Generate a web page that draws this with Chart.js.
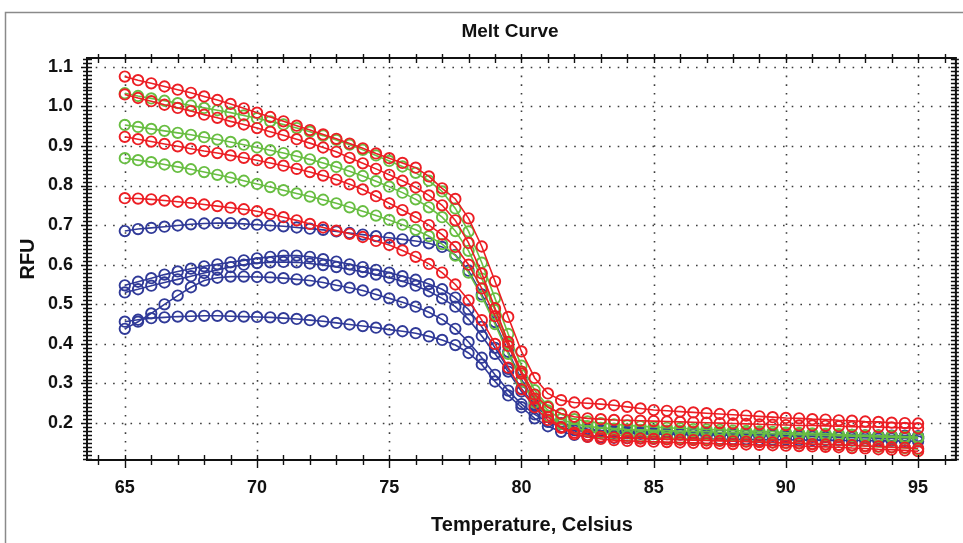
<!DOCTYPE html>
<html>
<head>
<meta charset="utf-8">
<title>Melt Curve</title>
<script src="https://cdn.jsdelivr.net/npm/chart.js@4.4.1/dist/chart.umd.min.js"></script>
<style>
  html, body { margin: 0; padding: 0; background: #fff; }
</style>
</head>
<body>
<canvas id="melt" width="963" height="543"></canvas>
<script>
// temperature steps (0.5 C)
const temps = [
  65, 65.5, 66, 66.5, 67, 67.5, 68, 68.5, 69, 69.5,
  70, 70.5, 71, 71.5, 72, 72.5, 73, 73.5, 74, 74.5,
  75, 75.5, 76, 76.5, 77, 77.5, 78, 78.5, 79, 79.5,
  80, 80.5, 81, 81.5, 82, 82.5, 83, 83.5, 84, 84.5,
  85, 85.5, 86, 86.5, 87, 87.5, 88, 88.5, 89, 89.5,
  90, 90.5, 91, 91.5, 92, 92.5, 93, 93.5, 94, 94.5,
  95
];

// red wells
const redA = [
  1.075, 1.066, 1.058, 1.050, 1.042, 1.034, 1.025, 1.016, 1.006, 0.995,
  0.984, 0.973, 0.962, 0.951, 0.940, 0.929, 0.918, 0.906, 0.894, 0.881,
  0.869, 0.857, 0.845, 0.823, 0.793, 0.766, 0.717, 0.646, 0.558, 0.468,
  0.381, 0.314, 0.275, 0.258, 0.252, 0.250, 0.248, 0.245, 0.241, 0.237,
  0.233, 0.231, 0.229, 0.227, 0.225, 0.223, 0.221, 0.219, 0.217, 0.215,
  0.213, 0.212, 0.210, 0.209, 0.207, 0.206, 0.204, 0.203, 0.201, 0.200,
  0.199
];
const redB = [
  1.030, 1.021, 1.013, 1.004, 0.996, 0.988, 0.979, 0.971, 0.962, 0.954,
  0.945, 0.936, 0.927, 0.917, 0.907, 0.896, 0.885, 0.870, 0.856, 0.842,
  0.827, 0.812, 0.795, 0.775, 0.750, 0.712, 0.655, 0.578, 0.490, 0.405,
  0.330, 0.272, 0.240, 0.224, 0.216, 0.212, 0.210, 0.208, 0.207, 0.206,
  0.205, 0.204, 0.203, 0.202, 0.201, 0.200, 0.199, 0.198, 0.197, 0.196,
  0.195, 0.194, 0.194, 0.193, 0.192, 0.191, 0.190, 0.190, 0.189, 0.188,
  0.187
];
const redC = [
  0.923, 0.917, 0.911, 0.905, 0.899, 0.893, 0.887, 0.882, 0.876, 0.870,
  0.864, 0.857, 0.850, 0.842, 0.834, 0.825, 0.815, 0.803, 0.790, 0.773,
  0.755, 0.738, 0.720, 0.700, 0.676, 0.645, 0.600, 0.540, 0.470, 0.395,
  0.325, 0.262, 0.215, 0.190, 0.176, 0.170, 0.166, 0.164, 0.162, 0.161,
  0.160, 0.159, 0.158, 0.157, 0.156, 0.155, 0.154, 0.153, 0.152, 0.151,
  0.150, 0.149, 0.147, 0.146, 0.145, 0.144, 0.142, 0.141, 0.139, 0.138,
  0.136
];
const redD = [
  0.768, 0.767, 0.765, 0.762, 0.759, 0.756, 0.752, 0.748, 0.744, 0.740,
  0.735, 0.728, 0.720, 0.712, 0.703, 0.694, 0.686, 0.678, 0.670, 0.660,
  0.650, 0.636, 0.620, 0.602, 0.580, 0.550, 0.510, 0.460, 0.400, 0.340,
  0.285, 0.240, 0.208, 0.188, 0.172, 0.165, 0.160, 0.157, 0.155, 0.154,
  0.153, 0.152, 0.151, 0.150, 0.149, 0.148, 0.147, 0.146, 0.145, 0.144,
  0.143, 0.142, 0.141, 0.140, 0.139, 0.137, 0.136, 0.134, 0.133, 0.131,
  0.129
];

// green wells
const greenA = [
  1.033, 1.026, 1.020, 1.014, 1.008, 1.002, 0.996, 0.990, 0.984, 0.977,
  0.970, 0.962, 0.954, 0.945, 0.936, 0.926, 0.915, 0.903, 0.890, 0.876,
  0.862, 0.848, 0.832, 0.812, 0.785, 0.742, 0.684, 0.605, 0.515, 0.425,
  0.345, 0.283, 0.243, 0.222, 0.210, 0.204, 0.200, 0.197, 0.194, 0.192,
  0.190, 0.188, 0.187, 0.185, 0.184, 0.183, 0.181, 0.180, 0.179, 0.178,
  0.176, 0.175, 0.174, 0.173, 0.172, 0.170, 0.169, 0.168, 0.167, 0.166,
  0.165
];
const greenB = [
  0.953, 0.948, 0.943, 0.938, 0.933, 0.928, 0.922, 0.916, 0.910, 0.903,
  0.896, 0.889, 0.882, 0.874, 0.866, 0.857, 0.847, 0.836, 0.824, 0.811,
  0.797, 0.782, 0.765, 0.745, 0.720, 0.685, 0.635, 0.565, 0.485, 0.402,
  0.330, 0.272, 0.232, 0.210, 0.198, 0.192, 0.188, 0.186, 0.184, 0.183,
  0.182, 0.181, 0.180, 0.179, 0.178, 0.177, 0.176, 0.175, 0.174, 0.173,
  0.172, 0.171, 0.170, 0.169, 0.168, 0.167, 0.166, 0.165, 0.164, 0.163,
  0.162
];
const greenC = [
  0.869, 0.864, 0.859, 0.853, 0.847, 0.841, 0.834, 0.827, 0.820, 0.812,
  0.804, 0.796, 0.788, 0.780, 0.772, 0.764, 0.755, 0.745, 0.735, 0.724,
  0.713, 0.701, 0.688, 0.672, 0.652, 0.623, 0.580, 0.520, 0.450, 0.375,
  0.305, 0.252, 0.218, 0.198, 0.187, 0.180, 0.175, 0.171, 0.168, 0.166,
  0.164, 0.162, 0.161, 0.159, 0.158, 0.157, 0.155, 0.154, 0.153, 0.151,
  0.150, 0.149, 0.147, 0.146, 0.145, 0.143, 0.142, 0.140, 0.139, 0.137,
  0.134
];

// blue wells
const blueA = [
  0.685, 0.690, 0.693, 0.696, 0.699, 0.702, 0.704, 0.705, 0.705, 0.703,
  0.701, 0.699, 0.697, 0.694, 0.691, 0.688, 0.684, 0.680, 0.676, 0.672,
  0.668, 0.664, 0.660, 0.654, 0.645, 0.625, 0.585, 0.525, 0.455, 0.380,
  0.310, 0.255, 0.218, 0.198, 0.188, 0.183, 0.180, 0.178, 0.177, 0.176,
  0.175, 0.175, 0.174, 0.174, 0.173, 0.173, 0.172, 0.172, 0.171, 0.171,
  0.170, 0.170, 0.169, 0.169, 0.168, 0.168, 0.167, 0.167, 0.166, 0.166,
  0.165
];
const blueB = [
  0.548, 0.557, 0.566, 0.575, 0.583, 0.590, 0.596, 0.601, 0.606, 0.611,
  0.616, 0.620, 0.623, 0.623, 0.620, 0.614, 0.608, 0.601, 0.594, 0.587,
  0.580, 0.571, 0.562, 0.551, 0.538, 0.517, 0.487, 0.443, 0.390, 0.337,
  0.287, 0.247, 0.217, 0.198, 0.188, 0.184, 0.181, 0.179, 0.178, 0.177,
  0.176, 0.175, 0.174, 0.173, 0.172, 0.171, 0.170, 0.170, 0.169, 0.168,
  0.167, 0.166, 0.166, 0.165, 0.164, 0.163, 0.163, 0.162, 0.161, 0.161,
  0.160
];
const blueC = [
  0.530, 0.538, 0.547, 0.555, 0.563, 0.571, 0.579, 0.587, 0.594, 0.600,
  0.604, 0.606, 0.607, 0.606, 0.603, 0.599, 0.594, 0.588, 0.582, 0.575,
  0.567, 0.558, 0.547, 0.533, 0.515, 0.494, 0.462, 0.420, 0.375, 0.330,
  0.280, 0.243, 0.218, 0.200, 0.190, 0.185, 0.182, 0.181, 0.180, 0.179,
  0.178, 0.178, 0.177, 0.176, 0.176, 0.175, 0.175, 0.174, 0.174, 0.173,
  0.172, 0.172, 0.171, 0.171, 0.170, 0.170, 0.169, 0.169, 0.168, 0.168,
  0.167
];
const blueD = [
  0.456, 0.461, 0.465, 0.467, 0.469, 0.470, 0.471, 0.471, 0.470, 0.469,
  0.468, 0.467, 0.465, 0.463, 0.460, 0.457, 0.453, 0.449, 0.445, 0.441,
  0.436, 0.432, 0.427, 0.419, 0.410, 0.397, 0.377, 0.348, 0.305, 0.270,
  0.240, 0.212, 0.192, 0.178, 0.170, 0.166, 0.164, 0.163, 0.162, 0.162,
  0.161, 0.161, 0.160, 0.160, 0.160, 0.159, 0.159, 0.159, 0.158, 0.158,
  0.158, 0.157, 0.157, 0.157, 0.156, 0.156, 0.156, 0.155, 0.155, 0.155,
  0.154
];
const blueE = [
  0.438, 0.456, 0.477, 0.500, 0.522, 0.543, 0.560, 0.567, 0.570, 0.570,
  0.569, 0.568, 0.566, 0.563, 0.560, 0.555, 0.548, 0.542, 0.535, 0.525,
  0.515, 0.505, 0.494, 0.480, 0.462, 0.438, 0.405, 0.365, 0.322, 0.282,
  0.248, 0.222, 0.203, 0.190, 0.182, 0.178, 0.176, 0.175, 0.174, 0.173,
  0.172, 0.172, 0.171, 0.171, 0.170, 0.170, 0.169, 0.169, 0.168, 0.168,
  0.167, 0.167, 0.166, 0.166, 0.165, 0.165, 0.164, 0.164, 0.163, 0.163,
  0.162
];

const xTicks = [65, 70, 75, 80, 85, 90, 95];
const yTicks = [0.2, 0.3, 0.4, 0.5, 0.6, 0.7, 0.8, 0.9, 1.0, 1.1];

const RED = 'rgb(236, 30, 36)';
const GREEN = 'rgb(104, 190, 66)';
const BLUE = 'rgb(48, 58, 152)';
const FONT = '"Liberation Sans", Arial, sans-serif';

// first dataset is painted last, so reds sit on top like the instrument plot
const wells = [
  [redA, RED], [redB, RED], [redC, RED], [redD, RED],
  [greenA, GREEN], [greenB, GREEN], [greenC, GREEN],
  [blueA, BLUE], [blueB, BLUE], [blueC, BLUE], [blueD, BLUE], [blueE, BLUE]
];

const datasets = wells.map(([vals, color]) => ({
  data: vals.map((v, i) => ({ x: temps[i], y: v })),
  borderColor: color,
  backgroundColor: 'transparent',
  borderWidth: 1.6,
  pointRadius: 5.2,
  pointBorderWidth: 1.9,
  pointBorderColor: color,
  pointBackgroundColor: 'transparent',
  tension: 0
}));

// background frame, dotted grid, tick marks and the captions
const meltFrame = {
  id: 'meltFrame',
  beforeDraw(chart) {
    const ctx = chart.ctx;
    ctx.save();
    ctx.fillStyle = '#fff';
    ctx.fillRect(0, 0, chart.width, chart.height);
    ctx.strokeStyle = '#8a8a8a';
    ctx.lineWidth = 1.5;
    ctx.beginPath();
    ctx.moveTo(5.5, chart.height);
    ctx.lineTo(5.5, 12.5);
    ctx.lineTo(chart.width, 12.5);
    ctx.stroke();
    ctx.restore();
  },
  beforeDatasetsDraw(chart) {
    const ctx = chart.ctx;
    const { left, right, top, bottom } = chart.chartArea;
    const xs = chart.scales.x, ys = chart.scales.y;
    ctx.save();
    ctx.strokeStyle = '#3c3c3c';
    ctx.lineWidth = 1.6;
    ctx.setLineDash([1.6, 7.1]);
    ctx.beginPath();
    xTicks.forEach(t => {
      const px = Math.round(xs.getPixelForValue(t)) + 0.5;
      ctx.moveTo(px, bottom);
      ctx.lineTo(px, top);
    });
    yTicks.forEach(v => {
      const py = Math.round(ys.getPixelForValue(v)) + 0.5;
      ctx.moveTo(left, py);
      ctx.lineTo(right, py);
    });
    ctx.stroke();
    ctx.restore();
  },
  afterDatasetsDraw(chart) {
    const ctx = chart.ctx;
    const { left, right, top, bottom } = chart.chartArea;
    const xs = chart.scales.x, ys = chart.scales.y;
    ctx.save();
    ctx.strokeStyle = '#111';
    ctx.lineWidth = 1.4;
    ctx.beginPath();
    for (let t = 64; t <= 96; t++) {
      const px = Math.round(xs.getPixelForValue(t)) + 0.5;
      const big = t % 5 === 0;
      ctx.moveTo(px, bottom - 5);
      ctx.lineTo(px, bottom + (big ? 8 : 5));
      ctx.moveTo(px, top - 4);
      ctx.lineTo(px, top + 5);
    }
    for (let k = 11; k <= 112; k++) {
      const py = Math.round(ys.getPixelForValue(k / 100)) + 0.5;
      const big = k % 10 === 0;
      ctx.moveTo(left - (big ? 6 : 4), py);
      ctx.lineTo(left + 5, py);
      ctx.moveTo(right - 5, py);
      ctx.lineTo(right + 3, py);
    }
    ctx.stroke();
    ctx.lineWidth = 2;
    ctx.strokeRect(left, top, right - left, bottom - top);

    ctx.fillStyle = '#111';
    ctx.textAlign = 'center';
    ctx.textBaseline = 'middle';
    ctx.font = 'bold 19px ' + FONT;
    ctx.fillText('Melt Curve', 510, 32);
    ctx.font = 'bold 20px ' + FONT;
    ctx.fillText('Temperature, Celsius', 532, 525);
    ctx.translate(28, (top + bottom) / 2);
    ctx.rotate(-Math.PI / 2);
    ctx.fillText('RFU', 0, 0);
    ctx.restore();
  }
};

new Chart(document.getElementById('melt'), {
  type: 'line',
  data: { datasets: datasets },
  options: {
    responsive: false,
    animation: false,
    layout: { padding: { left: 0, right: 2, top: 58, bottom: 0 } },
    plugins: {
      legend: { display: false },
      title: { display: false },
      tooltip: { enabled: false }
    },
    scales: {
      x: {
        type: 'linear',
        min: 63.57,
        max: 96.43,
        afterBuildTicks: s => { s.ticks = xTicks.map(v => ({ value: v })); },
        afterFit: s => { s.height = 83; },
        grid: { display: false, drawTicks: false },
        border: { display: false },
        ticks: {
          color: '#111',
          padding: 17,
          maxRotation: 0,
          autoSkip: false,
          font: { family: FONT, size: 18, weight: 'bold' },
          callback: v => String(v)
        }
      },
      y: {
        type: 'linear',
        min: 0.1068,
        max: 1.122,
        afterBuildTicks: s => { s.ticks = yTicks.map(v => ({ value: v })); },
        afterFit: s => { s.width = 87; },
        grid: { display: false, drawTicks: false },
        border: { display: false },
        ticks: {
          color: '#111',
          padding: 14,
          autoSkip: false,
          font: { family: FONT, size: 18, weight: 'bold' },
          callback: v => v.toFixed(1)
        }
      }
    }
  },
  plugins: [meltFrame]
});
</script>
</body>
</html>
